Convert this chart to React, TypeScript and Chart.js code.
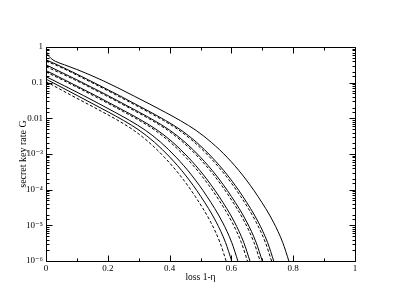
import React, { useEffect, useRef } from 'react';
import { Chart, registerables } from 'chart.js';

Chart.register(...registerables);

// tick labels
const xTickLabels = ['0', '0.2', '0.4', '0.6', '0.8', '1'];
const yTickLabels = ['1', '0.1', '0.01', '10\u207B\u00B3', '10\u207B\u2074', '10\u207B\u2075', '10\u207B\u2076'];

// curves: loss values (x) and log10 of key rate G
const curveA_x = [0, 0.005, 0.015, 0.03, 0.06, 0.1, 0.186, 0.286, 0.386, 0.436, 0.486, 0.536, 0.586, 0.636, 0.686, 0.736, 0.766, 0.786];
const curveA_log = [-0.1, -0.2, -0.31, -0.4, -0.5, -0.63, -0.95, -1.38, -1.83, -2.07, -2.34, -2.68, -3.09, -3.59, -4.19, -4.91, -5.48, -6];

const curveB_x = [0, 0.037, 0.137, 0.237, 0.337, 0.387, 0.437, 0.487, 0.537, 0.587, 0.637, 0.687, 0.717, 0.737];
const curveB_log = [-0.36, -0.5, -0.92, -1.36, -1.82, -2.06, -2.33, -2.67, -3.09, -3.59, -4.19, -4.91, -5.48, -6];

const curveC_x = [0, 0.03, 0.13, 0.23, 0.33, 0.38, 0.43, 0.48, 0.53, 0.58, 0.63, 0.68, 0.71, 0.73];
const curveC_log = [-0.4, -0.5, -0.92, -1.36, -1.82, -2.06, -2.33, -2.67, -3.09, -3.59, -4.19, -4.91, -5.48, -6];

const curveD_x = [0, 0.1, 0.2, 0.3, 0.35, 0.4, 0.45, 0.5, 0.55, 0.6, 0.65, 0.68, 0.7];
const curveD_log = [-0.5, -0.92, -1.36, -1.82, -2.06, -2.33, -2.67, -3.09, -3.59, -4.19, -4.91, -5.48, -6];

const curveE_x = [0, 0.093, 0.193, 0.293, 0.343, 0.393, 0.443, 0.493, 0.543, 0.593, 0.643, 0.673, 0.693];
const curveE_log = [-0.55, -0.92, -1.36, -1.82, -2.06, -2.33, -2.67, -3.09, -3.59, -4.19, -4.91, -5.48, -6];

const curveF_x = [0, 0.06, 0.16, 0.26, 0.31, 0.36, 0.41, 0.46, 0.51, 0.56, 0.61, 0.64, 0.66];
const curveF_log = [-0.66, -0.92, -1.36, -1.82, -2.06, -2.33, -2.67, -3.09, -3.59, -4.19, -4.91, -5.48, -6];

const curveG_x = [0, 0.052, 0.152, 0.252, 0.302, 0.352, 0.402, 0.452, 0.502, 0.552, 0.602, 0.632, 0.652];
const curveG_log = [-0.7, -0.92, -1.36, -1.82, -2.06, -2.33, -2.67, -3.09, -3.59, -4.19, -4.91, -5.48, -6];

const curveH_x = [0, 0.121, 0.221, 0.271, 0.321, 0.371, 0.421, 0.471, 0.521, 0.571, 0.601, 0.621];
const curveH_log = [-0.83, -1.36, -1.82, -2.06, -2.33, -2.67, -3.09, -3.59, -4.19, -4.91, -5.48, -6];

const curveI_x = [0, 0.101, 0.201, 0.251, 0.301, 0.351, 0.401, 0.451, 0.501, 0.551, 0.581, 0.601];
const curveI_log = [-0.9, -1.36, -1.82, -2.06, -2.33, -2.67, -3.09, -3.59, -4.19, -4.91, -5.48, -6];

const curveJ_x = [0, 0.083, 0.183, 0.233, 0.283, 0.333, 0.383, 0.433, 0.483, 0.533, 0.563, 0.583];
const curveJ_log = [-0.97, -1.36, -1.82, -2.06, -2.33, -2.67, -3.09, -3.59, -4.19, -4.91, -5.48, -6];

const curves = [
  { x: curveA_x, y: curveA_log, dashed: false },
  { x: curveB_x, y: curveB_log, dashed: false },
  { x: curveC_x, y: curveC_log, dashed: true },
  { x: curveD_x, y: curveD_log, dashed: false },
  { x: curveE_x, y: curveE_log, dashed: true },
  { x: curveF_x, y: curveF_log, dashed: false },
  { x: curveG_x, y: curveG_log, dashed: true },
  { x: curveH_x, y: curveH_log, dashed: false },
  { x: curveI_x, y: curveI_log, dashed: false },
  { x: curveJ_x, y: curveJ_log, dashed: true },
];

const FONT = '"Liberation Serif", "DejaVu Serif", serif';

const framePlugin = {
  id: 'frame',
  afterDraw(chart: any) {
    const { ctx, chartArea: a, scales } = chart;
    const L = Math.round(a.left) + 0.5;
    const R = Math.round(a.right) + 0.5;
    const T = Math.round(a.top) + 0.5;
    const B = Math.round(a.bottom) + 0.5;
    ctx.save();
    ctx.strokeStyle = '#000';
    ctx.lineWidth = 1;
    ctx.beginPath();
    ctx.rect(L, T, R - L, B - T);
    ctx.stroke();
    ctx.beginPath();
    scales.y.ticks.forEach((t: any) => {
      const lg = Math.log10(t.value);
      const major = Math.abs(lg - Math.round(lg)) < 1e-6;
      const len = major ? 6 : 3;
      const y = Math.round(scales.y.getPixelForValue(t.value)) + 0.5;
      ctx.moveTo(L, y); ctx.lineTo(L + len, y);
      ctx.moveTo(R, y); ctx.lineTo(R - len, y);
    });
    scales.x.ticks.forEach((t: any) => {
      const k = Math.round(t.value * 10);
      const major = k % 2 === 0;
      const len = major ? 6 : 3;
      const x = Math.round(scales.x.getPixelForValue(t.value)) + 0.5;
      ctx.moveTo(x, B); ctx.lineTo(x, B - len);
      ctx.moveTo(x, T); ctx.lineTo(x, T + len);
    });
    ctx.stroke();
    ctx.restore();
  },
};

export default function App() {
  const ref = useRef<HTMLCanvasElement | null>(null);
  useEffect(() => {
    if (!ref.current) return;
    const datasets = curves.map((c) => ({
      data: c.x.map((xv, i) => ({ x: xv, y: Math.pow(10, c.y[i]) })),
      borderColor: '#000',
      borderWidth: 1,
      borderDash: c.dashed ? [3, 2] : [],
      pointRadius: 0,
      fill: false,
      cubicInterpolationMode: 'monotone' as const,
    }));
    const chart = new Chart(ref.current, {
      type: 'line',
      data: { datasets },
      plugins: [framePlugin],
      options: {
        animation: false,
        responsive: false,
        layout: { padding: { left: 0, right: 44, top: 47, bottom: 0 } },
        plugins: { legend: { display: false }, tooltip: { enabled: false } },
        scales: {
          x: {
            type: 'linear',
            min: 0,
            max: 1,
            grid: { display: false, drawTicks: false },
            border: { display: false },
            ticks: {
              stepSize: 0.1,
              autoSkip: false,
              maxRotation: 0,
              padding: 2,
              color: '#000',
              font: { family: FONT, size: 9 },
              callback: (v: any) => {
                const k = Math.round(Number(v) * 10);
                return k % 2 === 0 ? xTickLabels[k / 2] : '';
              },
            },
            title: {
              display: true,
              text: 'loss 1-\u03B7',
              color: '#000',
              font: { family: FONT, size: 9.5 },
              padding: { top: 0, bottom: 25 },
            },
            afterFit: (s: any) => { s.height = 47; },
          },
          y: {
            type: 'logarithmic',
            min: 1e-6,
            max: 1,
            grid: { display: false, drawTicks: false },
            border: { display: false },
            ticks: {
              autoSkip: false,
              padding: 3,
              color: '#000',
              font: { family: FONT, size: 9 },
              callback: (v: any) => {
                const lg = Math.log10(Number(v));
                const r = Math.round(lg);
                if (Math.abs(lg - r) > 1e-6) return '';
                return yTickLabels[-r] ?? '';
              },
            },
            title: {
              display: true,
              text: 'secret key rate G',
              color: '#000',
              font: { family: FONT, size: 10 },
              padding: { top: 17, bottom: 0 },
            },
            afterFit: (s: any) => { s.width = 46; },
          },
        },
      },
    });
    return () => chart.destroy();
  }, []);
  return (
    <div style={{ position: 'absolute', left: 0, top: 0, width: 399, height: 308, background: '#fff' }}>
      <canvas ref={ref} width={399} height={308} />
    </div>
  );
}
